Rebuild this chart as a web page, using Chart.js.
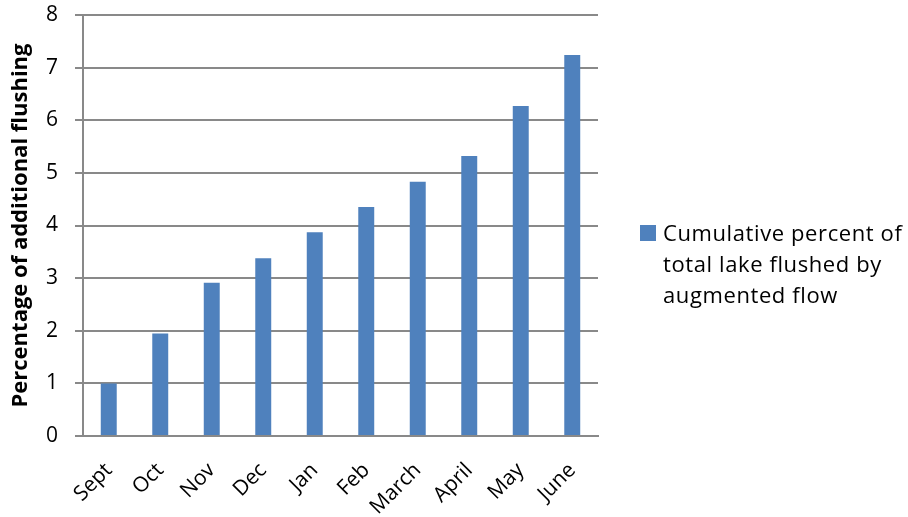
<!DOCTYPE html>
<html>
<head>
<meta charset="utf-8">
<script src="https://cdn.jsdelivr.net/npm/chart.js@4/dist/chart.umd.min.js"></script>
<style>
  html, body { margin: 0; padding: 0; background: #fff; }
  #wrap { width: 908px; height: 517px; position: relative; }
</style>
</head>
<body>
<div id="wrap"><canvas id="c" width="908" height="517"></canvas></div>
<script>
const months = ['Sept', 'Oct', 'Nov', 'Dec', 'Jan', 'Feb', 'March', 'April', 'May', 'June'];
const cumulativePercent = [1.0, 1.95, 2.91, 3.38, 3.87, 4.35, 4.83, 5.32, 6.27, 7.24];
const seriesLabel = ['Cumulative percent of', 'total lake flushed by', 'augmented flow'];
const yTitle = 'Percentage of additional flushing';

const FONT = '"Open Sans", Lato, sans-serif';
const GRID = '#898989';
const BAR = '#4F81BD';

// Legend drawn beside the plot, with the series name wrapped over three lines
const sideLegend = {
  id: 'sideLegend',
  afterDraw(chart) {
    const ctx = chart.ctx;
    const ds = chart.data.datasets[0];
    ctx.save();
    ctx.fillStyle = ds.backgroundColor;
    ctx.fillRect(640, 225, 16, 16);
    ctx.fillStyle = '#000';
    ctx.font = '22px ' + FONT;
    ctx.letterSpacing = '0.6px';
    ctx.textAlign = 'left';
    ctx.textBaseline = 'alphabetic';
    ds.label.forEach((line, i) => ctx.fillText(line, 663, 241 + i * 31));
    ctx.restore();
  }
};

new Chart(document.getElementById('c'), {
  type: 'bar',
  data: {
    labels: months,
    datasets: [{
      label: seriesLabel,
      data: cumulativePercent,
      backgroundColor: BAR,
      borderWidth: 0,
      categoryPercentage: 1,
      barPercentage: 0.31
    }]
  },
  options: {
    responsive: false,
    animation: false,
    layout: { autoPadding: false, padding: { left: 0, top: 15, right: 310, bottom: 0 } },
    plugins: { legend: { display: false }, tooltip: { enabled: false } },
    scales: {
      x: {
        grid: { display: false },
        border: { display: true, color: GRID, width: 2 },
        ticks: {
          color: '#000',
          font: { family: FONT, size: 21 },
          minRotation: 45,
          maxRotation: 45,
          padding: 14
        },
        afterFit(scale) { scale.height = 81; }
      },
      y: {
        min: 0,
        max: 8,
        ticks: {
          stepSize: 1,
          color: '#000',
          font: { family: FONT, size: 21 },
          padding: 17
        },
        grid: { color: GRID, lineWidth: 2, tickLength: 8, drawTicks: true },
        border: { display: true, color: GRID, width: 2 },
        title: {
          display: true,
          text: yTitle,
          color: '#000',
          font: { family: FONT, size: 22, weight: 'bold' },
          padding: { top: 8, bottom: 0 }
        },
        afterFit(scale) {
          scale.width = 83;
          // the plot fills the area set by layout.padding
          scale.paddingTop = 0;
          scale.paddingBottom = 0;
        }
      }
    }
  },
  plugins: [sideLegend]
});
</script>
</body>
</html>
